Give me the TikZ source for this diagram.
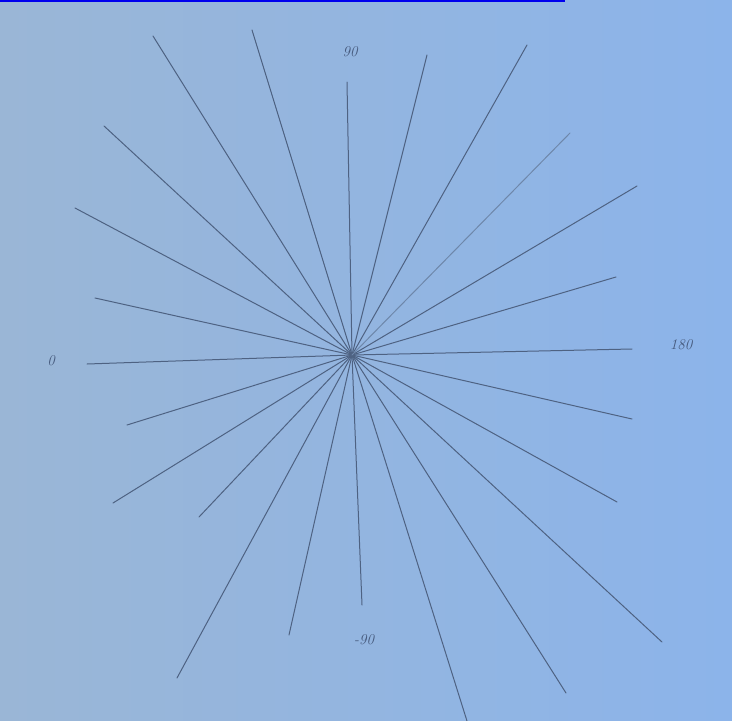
\documentclass[tikz,border=0pt]{standalone}
\begin{document}
\definecolor{bgl}{RGB}{154,182,214}
\definecolor{bgr}{RGB}{140,180,234}
\definecolor{ln}{RGB}{78,98,130}
\definecolor{lnl}{RGB}{110,135,170}
\definecolor{lbl}{RGB}{70,90,125}
\definecolor{lnk}{RGB}{0,0,238}
\begin{tikzpicture}[x=1pt,y=-1pt,
  ray/.style={draw=ln,line width=1.0pt,line cap=round},
  raylight/.style={draw=lnl,line width=1.0pt,line cap=round},
  lab/.style={text=lbl,font=\itshape\fontsize{15}{15}\selectfont,inner sep=0pt}]
\useasboundingbox (0,0) rectangle (732,721);
\shade[left color=bgl,right color=bgr] (0,0) rectangle (732,721);
\fill[lnk] (0,0) rectangle (565,2);
\coordinate (c) at (352,355);
\foreach \n/\x/\y in {e1/347/82, e2/252/30, e3/153/36, e4/427/55, e5/527/45,
  e7/637/186, e8/616/277, e9/632/349, e10/632/419, e11/617/502, e12/662/642,
  e13/566/693, e14/467/721, e15/362/605, e16/289/635, e17/177/678, e18/199/517,
  e19/113/503, e20/127/425, e21/87/364, e22/95/298, e23/75/208, e24/104/126}
  {\coordinate (\n) at (\x,\y); \draw[ray] (c) -- (\n);}
\coordinate (e6) at (570,133);
\draw[raylight] (c) -- (e6);
\node[lab] (l90) at (350,52) {90};
\node[lab] (l0) at (51,361) {0};
\node[lab] (l180) at (681,345) {180};
\node[lab] (lm90) at (364,640) {-90};
\end{tikzpicture}
\end{document}
